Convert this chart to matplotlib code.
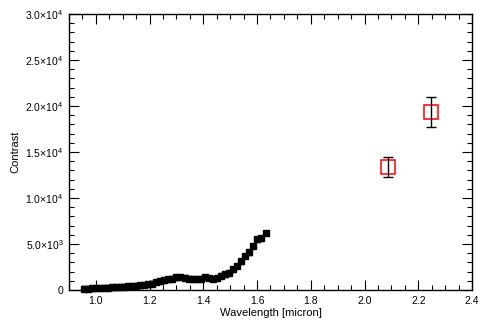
import matplotlib
matplotlib.use('Agg')
import matplotlib.pyplot as plt
from matplotlib.ticker import MultipleLocator, FuncFormatter

plt.rcParams['font.family'] = ['Liberation Sans', 'DejaVu Sans']
plt.rcParams['mathtext.fontset'] = 'custom'
plt.rcParams['mathtext.rm'] = 'Liberation Sans'

# spectrum (black points)
wl = [0.955, 0.97, 0.985, 1.0, 1.015, 1.03, 1.045, 1.06, 1.075, 1.09, 1.105, 1.12,
      1.135, 1.15, 1.165, 1.18, 1.195, 1.21, 1.225, 1.24, 1.255, 1.27, 1.285, 1.30,
      1.315, 1.33, 1.345, 1.36, 1.375, 1.39, 1.405, 1.42, 1.435, 1.45, 1.465, 1.48,
      1.495, 1.51, 1.525, 1.54, 1.555, 1.57, 1.585, 1.60, 1.615, 1.635]
contrast = [150, 160, 180, 200, 230, 250, 270, 300, 330, 380, 360, 400,
            430, 470, 510, 560, 620, 680, 850, 950, 1050, 1150, 1250, 1380,
            1420, 1350, 1250, 1200, 1180, 1250, 1420, 1300, 1200, 1300, 1550, 1700,
            1900, 2250, 2600, 3100, 3700, 4100, 4800, 5500, 5600, 6200]
contrast_err = [250] * len(wl)

# photometric points (red squares)
wl_phot = [2.088, 2.246]
contrast_phot = [13400, 19300]
err_phot = [1070, 1630]

fig = plt.figure(figsize=(4.89, 3.30), dpi=100)
ax = fig.add_axes([69/489, 40/330, 403/489, 276/330])

ax.errorbar(wl, contrast, yerr=contrast_err, fmt='s', color='black', ms=4.3,
            elinewidth=1, capsize=1.8, clip_on=False, zorder=3)
ax.plot(wl_phot, contrast_phot, 's', mfc='none', mec='red', ms=10, mew=1.1)
ax.errorbar(wl_phot, contrast_phot, yerr=err_phot, fmt='none', ecolor='black',
            elinewidth=1, capsize=3.5, capthick=1)

ax.set_xlim(0.9, 2.4)
ax.set_ylim(0, 30000)
ax.xaxis.set_major_locator(MultipleLocator(0.2))
ax.xaxis.set_minor_locator(MultipleLocator(0.05))
ax.yaxis.set_major_locator(MultipleLocator(5000))
ax.yaxis.set_minor_locator(MultipleLocator(1000))


def yfmt(v, pos):
    if v == 0:
        return '0'
    if v < 10000:
        return r'$\mathregular{%.1f{\times}10^{3}}$' % (v / 1000.0)
    return r'$\mathregular{%.1f{\times}10^{4}}$' % (v / 10000.0)


ax.yaxis.set_major_formatter(FuncFormatter(yfmt))
ax.xaxis.set_major_formatter(FuncFormatter(lambda v, p: '%.1f' % v))

ax.tick_params(which='both', direction='in', top=True, right=True, labelsize=7.5,
               width=0.8)
ax.tick_params(which='major', length=7, pad=4)
ax.tick_params(which='minor', length=3.5)
for s in ax.spines.values():
    s.set_linewidth(1)

ax.set_xlabel('Wavelength [micron]', fontsize=8, labelpad=2)
ax.set_ylabel('Contrast', fontsize=8, labelpad=4)

fig.savefig('out.png', dpi=100)
